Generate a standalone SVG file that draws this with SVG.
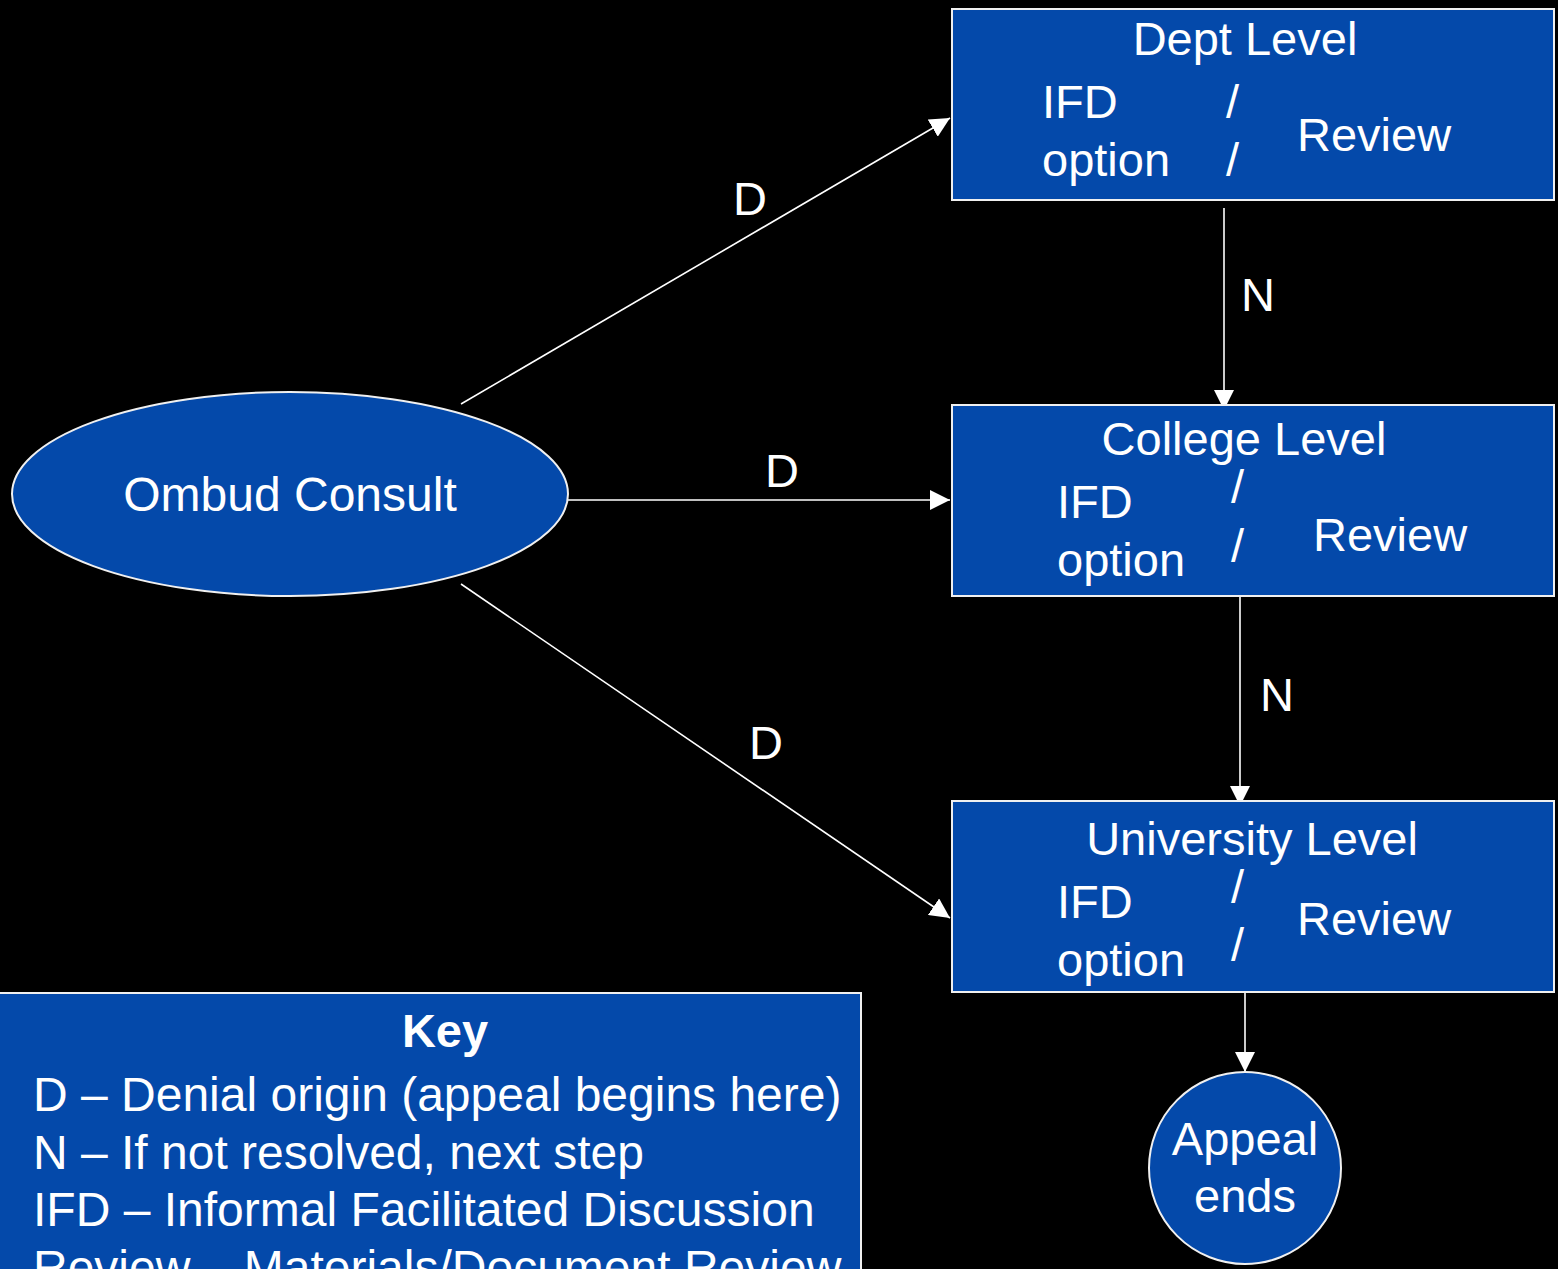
<svg xmlns="http://www.w3.org/2000/svg" width="1558" height="1269" viewBox="0 0 1558 1269">
<style>
.bg{fill:#000}
.node{fill:#0449AA;stroke:#f0f0f0;stroke-width:2}
.t{font-family:"Liberation Sans",Arial,sans-serif;fill:#fff;font-size:47px}
.c{text-anchor:middle}
.b{font-weight:bold}
.edge{stroke:#fff;stroke-width:1.6;fill:none;marker-end:url(#ah)}
</style>
<defs>
<marker id="ah" markerUnits="userSpaceOnUse" markerWidth="20" markerHeight="20" refX="20" refY="10" orient="auto" viewBox="0 0 20 20">
<path d="M0,0 L20,10 L0,20 z" fill="#fff"/>
</marker>
</defs>
<rect class="bg" x="0" y="0" width="1558" height="1269"/>
<g id="connectors">
<line class="edge" x1="461" y1="404" x2="950" y2="118"/>
<line class="edge" x1="567" y1="500" x2="950" y2="500"/>
<line class="edge" x1="461" y1="584" x2="950" y2="918"/>
<line class="edge" x1="1224" y1="208" x2="1224" y2="410"/>
<line class="edge" x1="1240" y1="592" x2="1240" y2="806"/>
<line class="edge" x1="1245" y1="993" x2="1245" y2="1072"/>
<text class="t" x="733" y="215">D</text>
<text class="t" x="765" y="487">D</text>
<text class="t" x="749" y="759">D</text>
<text class="t" x="1241" y="311">N</text>
<text class="t" x="1260" y="711">N</text>
</g>
<g id="ombud">
<ellipse class="node" cx="290" cy="494" rx="278" ry="102"/>
<text class="t c" x="290" y="511" style="font-size:48px">Ombud Consult</text>
</g>
<g id="dept">
<rect class="node" x="952" y="9" width="602" height="191"/>
<text class="t c" x="1245" y="55">Dept Level</text>
<text class="t" x="1042" y="118">IFD</text>
<text class="t" x="1042" y="176">option</text>
<text class="t" x="1226" y="118">/</text>
<text class="t" x="1226" y="176">/</text>
<text class="t" x="1297" y="151">Review</text>
</g>
<g id="college">
<rect class="node" x="952" y="405" width="602" height="191"/>
<text class="t c" x="1244" y="455">College Level</text>
<text class="t" x="1057" y="518">IFD</text>
<text class="t" x="1057" y="576">option</text>
<text class="t" x="1231" y="503">/</text>
<text class="t" x="1231" y="562">/</text>
<text class="t" x="1313" y="551">Review</text>
</g>
<g id="university">
<rect class="node" x="952" y="801" width="602" height="191"/>
<text class="t c" x="1252" y="855">University Level</text>
<text class="t" x="1057" y="918">IFD</text>
<text class="t" x="1057" y="976">option</text>
<text class="t" x="1231" y="903">/</text>
<text class="t" x="1231" y="961">/</text>
<text class="t" x="1297" y="935">Review</text>
</g>
<g id="appeal">
<circle class="node" cx="1245" cy="1168" r="96"/>
<text class="t c" x="1245" y="1155">Appeal</text>
<text class="t c" x="1245" y="1212">ends</text>
</g>
<g id="key">
<rect class="node" x="-2" y="993" width="863" height="290"/>
<text class="t c b" x="445" y="1047">Key</text>
<text class="t" x="33" y="1111" style="font-size:48px">D – Denial origin (appeal begins here)</text>
<text class="t" x="33" y="1169" style="font-size:48px">N – If not resolved, next step</text>
<text class="t" x="33" y="1226" style="font-size:48px">IFD – Informal Facilitated Discussion</text>
<text class="t" x="33" y="1284" style="font-size:48px">Review – Materials/Document Review</text>
</g>
</svg>
